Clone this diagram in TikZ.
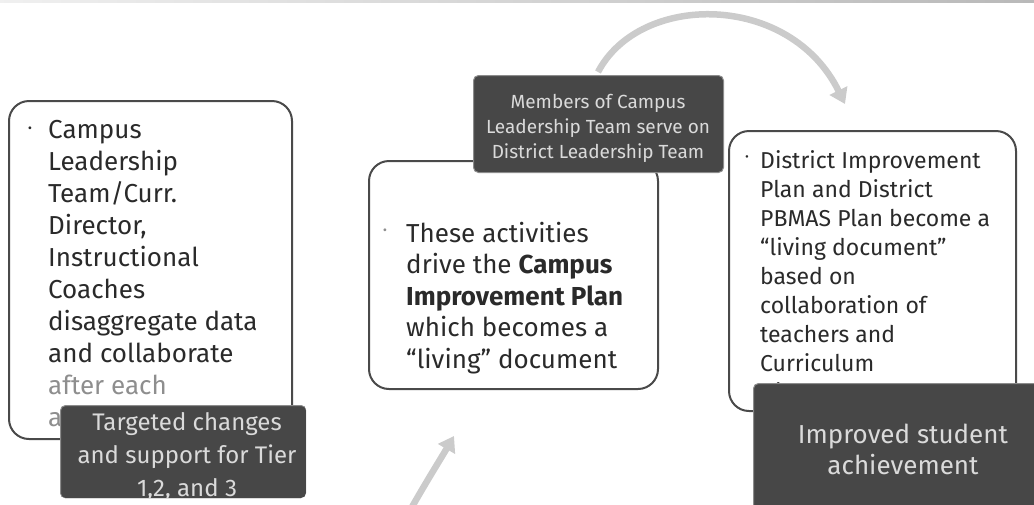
\documentclass[tikz,border=0pt]{standalone}
\usepackage{fontspec}
\setmainfont{Fira Sans}
\usetikzlibrary{arrows.meta}
\definecolor{panelline}{HTML}{4A4A4A}
\definecolor{tagfill}{HTML}{474747}
\definecolor{tagline}{HTML}{8C8C8C}
\definecolor{tagink}{HTML}{DADADA}
\definecolor{bodyink}{HTML}{2A2A2A}
\definecolor{fadeink}{HTML}{8E8E8E}
\definecolor{flowgray}{HTML}{CBCBCB}

\tikzset{
  panel/.style={draw=panelline, line width=2pt, fill=white, rounded corners=20pt,
    anchor=north west, inner sep=0pt},
  tag/.style={draw=tagline, line width=1pt, fill=tagfill, rounded corners=5pt,
    anchor=north west, inner sep=0pt},
  bodytext/.style={anchor=north west, inner sep=0pt, align=left, text=bodyink},
  tagtext/.style={anchor=north, inner sep=0pt, align=center, text=tagink},
  bullet/.style={inner sep=0pt, text=bodyink},
  flow/.style={draw=flowgray, line width=6.5pt, -{Triangle[width=19pt,length=15pt]}},
}

\begin{document}
\begin{tikzpicture}[x=1pt, y=-1pt]
\useasboundingbox (0,0) rectangle (1034,504);

% scan edge along the top
\shade[left color=gray!12, right color=gray!55] (0,0) rectangle (1034,2.5);

% cycle arrows
\coordinate (arcstart) at (598,72);
\coordinate (arcend) at (845,104);
\draw[flow] (arcstart) .. controls (640,-8) and (790,-8) .. (arcend);

\coordinate (risestart) at (408,514);
\coordinate (riseend) at (454,436);
\draw[flow] (risestart) .. controls (426,482) and (440,460) .. (riseend);

% campus leadership panel
\node[panel, minimum width=283, minimum height=338] (campus) at (8,100) {};
\node[bullet, font=\fontsize{20}{20}\selectfont] (campusdot) at (30,131) {·};
\node[bodytext, font=\fontsize{26}{32}\selectfont] (campustext) at (48,120)
  {Campus\\Leadership\\Team/Curr.\\Director,\\Instructional\\Coaches\\disaggregate data\\and collaborate\\
   \textcolor{fadeink}{after each}\\\textcolor{fadeink}{assessment}};

\begin{scope}
\clip[rounded corners=5pt] (60,405) rectangle (306,498);
\node[tag, minimum width=246, minimum height=93] (targeted) at (60,405) {};
\node[tagtext, font=\fontsize{24}{33}\selectfont] (targetedtext) at (187,412)
  {Targeted changes\\and support for Tier\\1,2, and 3};
\end{scope}

% campus improvement plan panel
\node[panel, minimum width=289, minimum height=228] (cip) at (368,160) {};
\node[bullet, text=fadeink, font=\fontsize{20}{20}\selectfont] (cipdot) at (385,233) {·};
\node[bodytext, font=\fontsize{26}{31.5}\selectfont] (ciptext) at (406,222)
  {These activities\\drive the \textbf{Campus}\\\textbf{Improvement Plan}\\which becomes a\\“living” document};

\node[tag, minimum width=250, minimum height=97] (members) at (473,75) {};
\node[tagtext, font=\fontsize{19}{25}\selectfont] (memberstext) at (598,94)
  {Members of Campus\\Leadership Team serve on\\District Leadership Team};

% district improvement plan panel
\node[panel, minimum width=287, minimum height=280] (dip) at (728,130) {};
\node[bullet, font=\fontsize{18}{18}\selectfont] (dipdot) at (747,159) {·};
\node[bodytext, font=\fontsize{23}{29}\selectfont] (diptext) at (760,150)
  {District Improvement\\Plan and District\\PBMAS Plan become a\\“living document”\\based on\\collaboration of\\teachers and\\Curriculum\\Director};

\node[tag, minimum width=300, minimum height=140] (improved) at (753,383) {};
\node[tagtext, font=\fontsize{26}{31}\selectfont] (improvedtext) at (903,424)
  {Improved student\\achievement};

\end{tikzpicture}
\end{document}
